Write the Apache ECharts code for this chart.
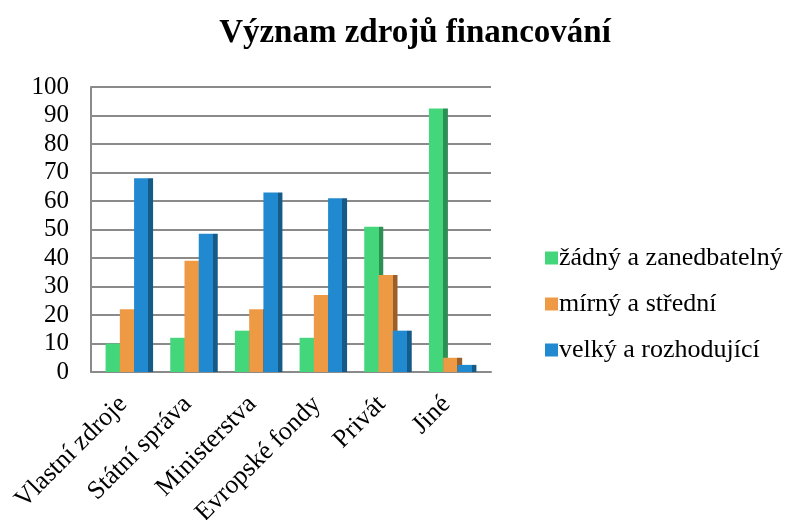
<!DOCTYPE html>
<html>
<head>
<meta charset="utf-8">
<script src="https://cdn.jsdelivr.net/npm/echarts@6/dist/echarts.min.js"></script>
<style>
  html, body { margin: 0; padding: 0; background: #fff; }
  #chart { width: 789px; height: 520px; }
</style>
</head>
<body>
<div id="chart"></div>
<script>
// kategorie a hodnoty (v %)
const categories = ['Vlastní zdroje', 'Státní správa', 'Ministerstva', 'Evropské fondy', 'Privát', 'Jiné'];
const seriesNames = ['žádný a zanedbatelný', 'mírný a střední', 'velký a rozhodující'];
const zadny = [10, 12, 14.5, 12, 51, 92.5];
const mirny = [22, 39, 22, 27, 34, 5];
const velky = [68, 48.5, 63, 61, 14.5, 2.5];
const yTicks = [0, 10, 20, 30, 40, 50, 60, 70, 80, 90, 100];

const FONT = '"Liberation Serif", "Times New Roman", serif';

// barva čelní stěny + tmavší boční stěna (imitace 3D sloupce)
function face(main, side) {
  return {
    type: 'linear', x: 0, y: 0, x2: 1, y2: 0,
    colorStops: [
      { offset: 0, color: main },
      { offset: 0.75, color: main },
      { offset: 0.75, color: side },
      { offset: 1, color: side }
    ]
  };
}

const palette = [
  ['#43d67b', '#2e8f55'],
  ['#ee9a45', '#9a5f2a'],
  ['#2189cf', '#165b88']
];
const data = [zadny, mirny, velky];

const chart = echarts.init(document.getElementById('chart'));

chart.setOption({
  animation: false,
  title: {
    text: 'Význam zdrojů financování',
    left: 410,
    top: 12,
    textAlign: 'center',
    textStyle: { fontFamily: FONT, fontSize: 33, fontWeight: 'bold', color: '#000' }
  },
  legend: {
    orient: 'vertical',
    left: 540,
    top: 240,
    itemWidth: 13,
    itemHeight: 13,
    itemGap: 20,
    icon: 'rect',
    textStyle: { fontFamily: FONT, fontSize: 26, color: '#000', padding: [0, 0, 0, -4] },
    data: seriesNames.map((n, i) => ({ name: n, itemStyle: { color: palette[i][0] } }))
  },
  // grid 0: osy a mřížka, grid 1: sloupce (posunuté jako v 3D grafu)
  grid: [
    { left: 91, right: 298, top: 87, bottom: 148, outerBoundsMode: 'none' },
    { left: 97, right: 304, top: 87, bottom: 148, outerBoundsMode: 'none' }
  ],
  xAxis: [
    {
      type: 'category',
      gridIndex: 0,
      data: categories,
      axisLine: { lineStyle: { color: '#8a8a8a', width: 2 } },
      axisTick: { show: false },
      axisLabel: { show: false }
    },
    {
      type: 'category',
      gridIndex: 1,
      data: categories,
      axisLine: { show: false },
      axisTick: { show: false },
      axisLabel: {
        rotate: 45,
        interval: 0,
        margin: 22,
        padding: [0, 9, 0, 0],
        fontFamily: FONT,
        fontSize: 26,
        color: '#000'
      }
    }
  ],
  yAxis: [
    {
      type: 'value',
      gridIndex: 0,
      min: 0,
      max: 100,
      interval: 10,
      axisLine: { show: true, lineStyle: { color: '#8a8a8a', width: 2 } },
      axisTick: { show: false },
      splitLine: { lineStyle: { color: '#8a8a8a', width: 2 } },
      axisLabel: {
        margin: 22,
        fontFamily: FONT,
        fontSize: 25,
        color: '#000',
        formatter: v => yTicks.includes(v) ? String(v) : ''
      }
    },
    {
      type: 'value',
      gridIndex: 1,
      min: 0,
      max: 100,
      interval: 10,
      show: false
    }
  ],
  series: seriesNames.map((name, i) => ({
    name: name,
    type: 'bar',
    xAxisIndex: 1,
    yAxisIndex: 1,
    data: data[i],
    barWidth: 19,
    barGap: '-25%',
    itemStyle: { color: face(palette[i][0], palette[i][1]) }
  }))
});
</script>
</body>
</html>
